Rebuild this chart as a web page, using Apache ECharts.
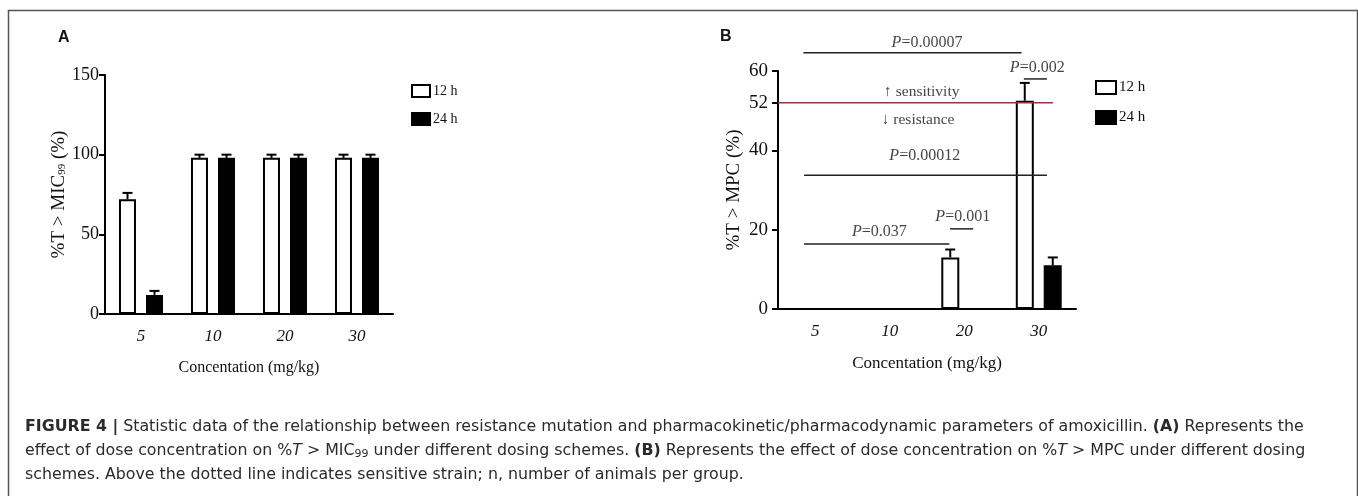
<!DOCTYPE html>
<html>
<head>
<meta charset="utf-8">
<script src="https://cdn.jsdelivr.net/npm/echarts@6/dist/echarts.min.js"></script>
<style>
  html, body { margin: 0; padding: 0; background: #fff; }
  #chart { width: 1358px; height: 496px; }
</style>
</head>
<body>
<div id="chart"></div>
<script>
// categories (dose, mg/kg)
var categories = ['5', '10', '20', '30'];

// panel A: %T > MIC99
var a12 = [72, 98, 98, 98];
var a12Err = [76, 100, 100, 100];
var a24 = [12, 98, 98, 98];
var a24Err = [14.5, 100, 100, 100];

// panel B: %T > MPC
var b12 = [0, 0, 13, 52.5];
var b12Err = [0, 0, 15, 57];
var b24 = [0, 0, 0, 11];
var b24Err = [0, 0, 0, 13];
var bTicks = [0, 20, 40, 52, 60];
var threshold = 52;

// significance brackets in panel B (x in category units, y in %)
var sigText = ['0.00007', '0.002', '0.00012', '0.001', '0.037'];
var sigFrom = [-0.16, 2.80, -0.15, 1.81, -0.15];
var sigTo = [2.77, 3.11, 3.11, 2.12, 1.80];
var sigY = [64.6, 58.0, 33.7, 20.2, 16.4];
var sigTextX = [1.50, 2.98, 1.47, 1.98, 0.86];
var sigTextY = [67.1, 60.8, 38.6, 23.2, 19.4];

var serif = 'Liberation Serif';
var sans = 'DejaVu Sans';

function errData(vals, errs, side) {
  var out = [];
  vals.forEach(function (v, i) {
    if (errs[i] > v) out.push([i, v, errs[i], side]);
  });
  return out;
}

function errSeries(name, xi, yi, data, off) {
  return {
    type: 'custom', name: name, xAxisIndex: xi, yAxisIndex: yi, z: 5,
    encode: { x: 0, y: [1, 2] },
    data: data,
    renderItem: function (params, api) {
      var base = api.coord([api.value(0), api.value(1)]);
      var tip = api.coord([api.value(0), api.value(2)]);
      var x = base[0] + api.value(3) * off;
      var st = { stroke: '#000', lineWidth: 2 };
      return {
        type: 'group',
        children: [
          { type: 'line', shape: { x1: x, y1: base[1], x2: x, y2: tip[1] }, style: st },
          { type: 'line', shape: { x1: x - 5, y1: tip[1], x2: x + 5, y2: tip[1] }, style: st }
        ]
      };
    }
  };
}

var white = { color: '#fff', borderColor: '#000', borderWidth: 2 };
var black = { color: '#000', borderColor: '#000', borderWidth: 2 };

var series = [
  { type: 'bar', name: '12 h', xAxisIndex: 0, yAxisIndex: 0, data: a12, barWidth: 17, barGap: '59%', itemStyle: white },
  { type: 'bar', name: '24 h', xAxisIndex: 0, yAxisIndex: 0, data: a24, barWidth: 17, barGap: '59%', itemStyle: black },
  { type: 'bar', name: '12 h', xAxisIndex: 1, yAxisIndex: 1, data: b12, barWidth: 18, barGap: '55%', itemStyle: white },
  { type: 'bar', name: '24 h', xAxisIndex: 1, yAxisIndex: 1, data: b24, barWidth: 18, barGap: '55%', itemStyle: black },
  errSeries('errA12', 0, 0, errData(a12, a12Err, -1), 13.5),
  errSeries('errA24', 0, 0, errData(a24, a24Err, 1), 13.5),
  errSeries('errB12', 1, 1, errData(b12, b12Err, -1), 14),
  errSeries('errB24', 1, 1, errData(b24, b24Err, 1), 14),
  {
    type: 'line', name: 'threshold', xAxisIndex: 2, yAxisIndex: 1, clip: false, symbol: 'none',
    data: [[-0.5, threshold], [3.19, threshold]],
    lineStyle: { color: '#a52a45', width: 1.5 }, z: 6
  }
];

sigText.forEach(function (t, i) {
  series.push({
    type: 'line', name: 'sig' + i, xAxisIndex: 2, yAxisIndex: 1, clip: false, symbol: 'none',
    data: [[sigFrom[i], sigY[i]], [sigTo[i], sigY[i]]],
    lineStyle: { color: '#222', width: 1.5 }
  });
});

series.push({
  type: 'scatter', name: 'sigLabels', xAxisIndex: 2, yAxisIndex: 1, clip: false, symbolSize: 0,
  data: sigText.map(function (t, i) { return { value: [sigTextX[i], sigTextY[i]], name: t }; }),
  label: {
    show: true, position: 'inside',
    formatter: function (p) { return '{i|P}=' + p.name; },
    fontFamily: serif, fontSize: 16, color: '#111',
    rich: { i: { fontFamily: serif, fontStyle: 'italic', fontSize: 16, color: '#111' } }
  }
});

series.push({
  type: 'scatter', name: 'zones', xAxisIndex: 2, yAxisIndex: 1, clip: false, symbolSize: 0,
  data: [
    { value: [1.43, 54.7], name: '\u2191 sensitivity' },
    { value: [1.38, 47.6], name: '\u2193 resistance' }
  ],
  label: { show: true, position: 'inside', formatter: '{b}', fontFamily: serif, fontSize: 15.5, color: '#111' }
});

var axisLine = { onZero: false, lineStyle: { color: '#000', width: 2 } };
var axisTick = { show: true, length: 6, lineStyle: { color: '#000', width: 2 } };

var capColor = '#2a2a2a';
var capRich = {
  b: { fontFamily: sans, fontWeight: 'bold', fontSize: 15.8, color: capColor },
  i: { fontFamily: sans, fontStyle: 'italic', fontSize: 15.8, color: capColor },
  s: { fontFamily: sans, fontSize: 11, color: capColor, verticalAlign: 'bottom', padding: [6, 0, 0, 0] }
};
function capLine(text, y) {
  return {
    type: 'text', left: 25, top: y,
    style: { text: text, rich: capRich, font: '15.8px ' + sans, fill: capColor }
  };
}

var option = {
  animation: false,
  backgroundColor: '#fff',
  grid: [
    { left: 105, right: 965, top: 75, bottom: 182 },
    { left: 778, right: 282, top: 71, bottom: 187 }
  ],
  xAxis: [
    {
      type: 'category', gridIndex: 0, data: categories,
      axisLine: axisLine, axisTick: { alignWithLabel: true, length: 6, lineStyle: { color: '#000', width: 2 } },
      axisLabel: { fontFamily: serif, fontStyle: 'italic', fontSize: 17, color: '#111', margin: 14 },
      name: 'Concentation (mg/kg)', nameLocation: 'middle', nameGap: 46,
      nameTextStyle: { fontFamily: serif, fontSize: 16, color: '#111' }
    },
    {
      type: 'category', gridIndex: 1, data: categories,
      axisLine: axisLine, axisTick: { alignWithLabel: true, length: 6, lineStyle: { color: '#000', width: 2 } },
      axisLabel: { fontFamily: serif, fontStyle: 'italic', fontSize: 17, color: '#111', margin: 14 },
      name: 'Concentation (mg/kg)', nameLocation: 'middle', nameGap: 46,
      nameTextStyle: { fontFamily: serif, fontSize: 17, color: '#111' }
    },
    { type: 'value', gridIndex: 1, min: -0.5, max: 3.5, show: false }
  ],
  yAxis: [
    {
      type: 'value', gridIndex: 0, min: 0, max: 150, interval: 50,
      axisLine: { show: true, onZero: false, lineStyle: { color: '#000', width: 2 } },
      axisTick: axisTick,
      splitLine: { show: false },
      axisLabel: { fontFamily: serif, fontSize: 18, color: '#111', margin: 6 },
      name: '%T > MIC{s|99} (%)', nameLocation: 'middle', nameGap: 31,
      nameTextStyle: {
        fontFamily: serif, fontSize: 19, color: '#111',
        rich: { s: { fontFamily: serif, fontSize: 11, color: '#111', verticalAlign: 'bottom', padding: [6, 0, 0, 0] } }
      }
    },
    {
      type: 'value', gridIndex: 1, min: 0, max: 60,
      axisLine: { show: true, onZero: false, lineStyle: { color: '#000', width: 2 } },
      axisTick: { show: true, length: 6, lineStyle: { color: '#000', width: 2 }, customValues: bTicks },
      axisLabel: { fontFamily: serif, fontSize: 19, color: '#111', margin: 10, customValues: bTicks },
      splitLine: { show: false },
      name: '%T > MPC (%)', nameLocation: 'middle', nameGap: 34,
      nameTextStyle: { fontFamily: serif, fontSize: 19, color: '#111' }
    }
  ],
  legend: [
    {
      left: 411, top: 84, orient: 'vertical', padding: 0, itemWidth: 18, itemHeight: 12, itemGap: 14,
      data: ['12 h', '24 h'], icon: 'rect', selectedMode: false,
      textStyle: { fontFamily: serif, fontSize: 14, color: '#111', padding: [0, 0, 0, -2] }
    },
    {
      left: 1095, top: 80, orient: 'vertical', padding: 0, itemWidth: 20, itemHeight: 13, itemGap: 15,
      data: ['12 h', '24 h'], icon: 'rect', selectedMode: false,
      textStyle: { fontFamily: serif, fontSize: 15, color: '#111', padding: [0, 0, 0, -2] }
    }
  ],
  graphic: [
    {
      type: 'rect', left: 6, top: 8, z: -1,
      shape: { width: 1349, height: 500 },
      style: { fill: 'none', stroke: '#555', lineWidth: 1.5 }
    },
    { type: 'text', left: 58, top: 30, style: { text: 'A', font: 'bold 16px Liberation Sans', fill: '#111' } },
    { type: 'text', left: 720, top: 29, style: { text: 'B', font: 'bold 16px Liberation Sans', fill: '#111' } },
    capLine('{b|FIGURE 4 |} Statistic data of the relationship between resistance mutation and pharmacokinetic/pharmacodynamic parameters of amoxicillin. {b|(A)} Represents the', 419),
    capLine('effect of dose concentration on %{i|T} > MIC{s|99} under different dosing schemes. {b|(B)} Represents the effect of dose concentration on %{i|T} > MPC under different dosing', 443),
    capLine('schemes. Above the dotted line indicates sensitive strain; n, number of animals per group.', 467)
  ],
  series: series
};

var chart = echarts.init(document.getElementById('chart'), null, { renderer: 'canvas' });
chart.setOption(option);
</script>
</body>
</html>
